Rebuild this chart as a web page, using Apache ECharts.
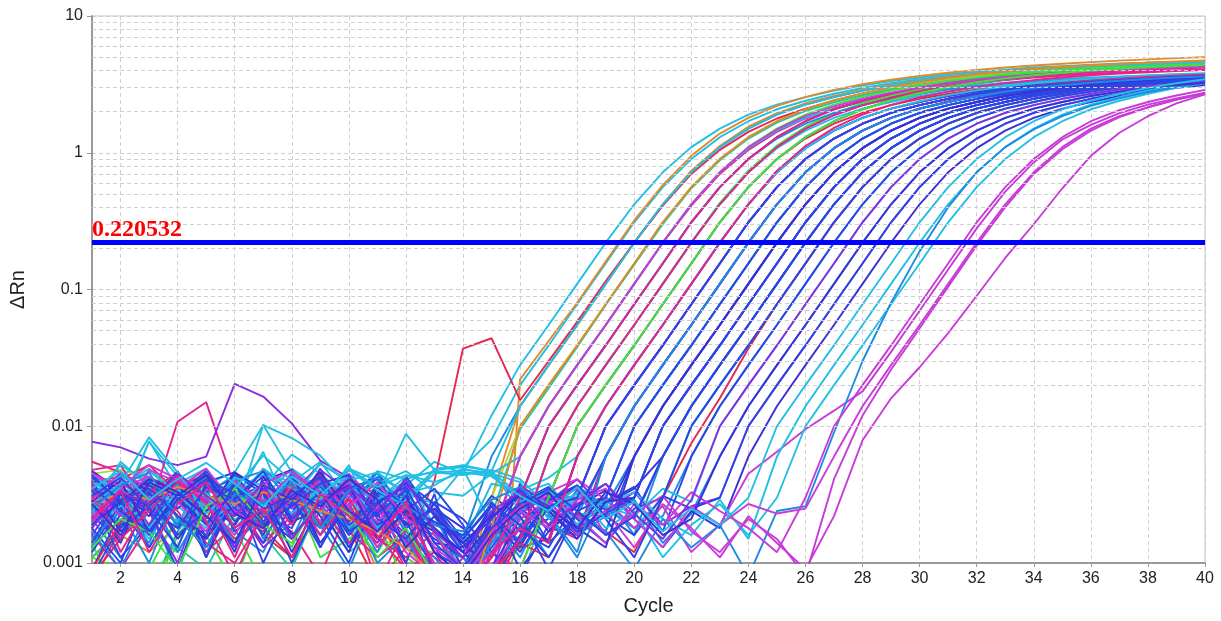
<!DOCTYPE html>
<html><head><meta charset="utf-8">
<script src="https://cdn.jsdelivr.net/npm/echarts@6/dist/echarts.min.js"></script>
<style>html,body{margin:0;padding:0;background:#fff;overflow:hidden}#c{width:1221px;height:621px}</style>
</head><body><div id="c"></div>
<script>
const cycles = ['1','2','3','4','5','6','7','8','9','10','11','12','13','14','15','16','17','18','19','20','21','22','23','24','25','26','27','28','29','30','31','32','33','34','35','36','37','38','39','40'];
const thresholdValue = 0.220532;
const logGridLines = [0.002,0.003,0.004,0.005,0.006,0.007,0.008,0.009,0.02,0.03,0.04,0.05,0.06,0.07,0.08,0.09,0.2,0.3,0.4,0.5,0.6,0.7,0.8,0.9,2,3,4,5,6,7,8,9];

const w01 = [.0038,.0022,.0078,.0035,.0012,.0028,.0065,.0021,.0036,.0016,.0031,.0088,.0048, .005,.008,.02,.039,.078,.155,.31,.56,.9,1.3,1.7,2.08,2.4,2.7,2.98,3.22,3.45,3.65,3.82,3.98,4.12,4.25,4.35,4.45,4.55,4.6,4.65];
const w02 = [.0019,.0033,.0026,.0008,.0041,.0022,.0102,.0046,.0027,.0052,.0018,.0037,.0055, .0045,.012,.028,.055,.11,.22,.42,.72,1.1,1.5,1.9,2.25,2.55,2.85,3.1,3.35,3.55,3.75,3.9,4.05,4.2,4.3,4.4,4.5,4.55,4.6,4.65];
const w03 = [.0011,.0016,.0012,.0019,.0032,.0038,.003,.004,.0035,.0024,.0009,.0006,.0005, .0003,.00002,.022,.042,.08,.16,.32,.58,.95,1.38,1.8,2.2,2.55,2.88,3.17,3.42,3.65,3.85,4.03,4.2,4.35,4.48,4.6,4.72,4.82,4.92,5.0];
const w04 = [.0021,.0011,.0006,.0017,.0035,.0013,.0026,.0042,.0019,.0009,.0028,.0014,.0008, .0015,.006,.014,.028,.055,.11,.22,.42,.72,1.1,1.5,1.9,2.25,2.55,2.85,3.1,3.35,3.55,3.75,3.9,4.05,4.2,4.3,4.4,4.5,4.55,4.6];
const w05 = [.0042,.0038,.003,.0025,.0034,.0031,.0027,.0036,.0022,.0018,.0026,.0014,.0009, .0006,.003,.014,.028,.055,.11,.22,.42,.74,1.12,1.55,1.95,2.3,2.6,2.9,3.15,3.4,3.6,3.8,3.95,4.1,4.25,4.35,4.45,4.55,4.62,4.7];
const w06 = [.0019,.0041,.0052,.0033,.0021,.0047,.0016,.0011,.0024,.0018,.0007,.0013,.004, .037,.044,.0155,.03,.058,.115,.22,.41,.7,1.05,1.42,1.78,2.1,2.4,2.68,2.92,3.14,3.33,3.5,3.64,3.76,3.87,3.96,4.04,4.11,4.17,4.22];
const w07 = [.0045,.0048,.0042,.0036,.0024,.0045,.0016,.0028,.0019,.0017,.0015,.0013,.0012, .0008,.003,.01,.02,.039,.078,.155,.31,.56,.9,1.3,1.7,2.08,2.4,2.7,2.98,3.22,3.45,3.65,3.82,3.98,4.12,4.25,4.35,4.45,4.52,4.58];
const w08 = [.0011,.0018,.0029,.0013,.0009,.0023,.0019,.0035,.0024,.0012,.0017,.0022,.0006, .0005,.0022,.0095,.019,.038,.077,.152,.3,.55,.88,1.27,1.66,2.02,2.34,2.63,2.9,3.13,3.35,3.53,3.7,3.84,3.97,4.08,4.17,4.25,4.32,4.38];
const w09 = [.0011,.0009,.0008,.0013,.0045,.0018,.0007,.0009,.0042,.0029,.0015,.0011,.0008, .0004,.0015,.006,.014,.028,.055,.11,.22,.42,.72,1.1,1.5,1.9,2.25,2.55,2.85,3.1,3.35,3.55,3.75,3.9,4.05,4.2,4.3,4.4,4.48,4.55];
const w10 = [.0048,.0052,.0024,.0108,.015,.0036,.0028,.0044,.0019,.0032,.0026,.0015,.0009, .0007,.0015,.006,.014,.028,.055,.11,.22,.41,.7,1.05,1.42,1.78,2.1,2.38,2.64,2.86,3.06,3.24,3.4,3.54,3.66,3.77,3.86,3.94,4.0,4.06];
const w11 = [.0009,.0006,.0005,.0016,.0029,.0021,.0024,.0013,.0036,.0018,.0012,.0025,.0017, .0009,.0004,.003,.01,.02,.039,.078,.155,.31,.56,.9,1.3,1.7,2.08,2.4,2.7,2.98,3.22,3.45,3.65,3.82,3.98,4.12,4.25,4.35,4.45,4.52];
const w12 = [.0024,.0055,.0036,.0044,.0015,.0031,.0046,.0039,.0055,.0029,.0047,.0041,.0047, .0046,.0045,.006,.014,.028,.055,.11,.22,.42,.72,1.08,1.45,1.8,2.1,2.35,2.6,2.8,2.98,3.12,3.25,3.36,3.46,3.55,3.62,3.68,3.73,3.78];
const w13 = [.0077,.007,.0058,.0052,.006,.0204,.0165,.0105,.0056,.0042,.0031,.0025,.0013, .0007,.0009,.003,.01,.02,.039,.078,.155,.31,.56,.9,1.3,1.7,2.08,2.4,2.7,2.98,3.22,3.43,3.6,3.75,3.88,4.0,4.1,4.18,4.25,4.3];
const w14 = [.0007,.0018,.0032,.0024,.0012,.0019,.0038,.0027,.0016,.0042,.0023,.0009,.0006, .0011,.0006,.0015,.006,.014,.028,.055,.11,.22,.42,.72,1.1,1.5,1.9,2.25,2.55,2.85,3.1,3.35,3.55,3.72,3.86,3.98,4.08,4.17,4.25,4.32];
const w15 = [.0014,.0005,.0009,.0022,.0016,.0007,.0027,.0035,.0011,.0015,.002,.0007,.0004, .0005,.0004,.0015,.006,.014,.028,.055,.11,.22,.43,.74,1.13,1.55,1.95,2.3,2.62,2.92,3.18,3.42,3.62,3.8,3.95,4.08,4.2,4.3,4.38,4.45];
const w16 = [.002,.0026,.0014,.0039,.0022,.0017,.0012,.0033,.0028,.0013,.0037,.0019,.0025, .0012,.0007,.003,.01,.02,.039,.078,.155,.31,.56,.9,1.27,1.63,1.96,2.23,2.48,2.7,2.9,3.05,3.19,3.31,3.41,3.5,3.58,3.65,3.71,3.76];
const w17 = [.0039,.0043,.0026,.002,.0035,.0029,.0014,.0022,.004,.0017,.0011,.0016,.0007, .0008,.0012,.0009,.003,.01,.02,.039,.078,.155,.31,.56,.9,1.3,1.7,2.08,2.4,2.7,2.98,3.22,3.42,3.6,3.75,3.88,4.0,4.1,4.18,4.25];
const w18 = [.0008,.0015,.0028,.0037,.0044,.003,.0018,.0011,.0024,.004,.0032,.0027,.0013, .0011,.0018,.0013,.003,.01,.02,.039,.078,.155,.31,.56,.9,1.27,1.63,1.96,2.23,2.48,2.7,2.9,3.05,3.19,3.31,3.41,3.5,3.58,3.65,3.71];
const w19 = [.0029,.002,.0047,.0032,.0024,.0038,.003,.0049,.0035,.0022,.0043,.0033,.0027, .0049,.0019,.0015,.006,.014,.028,.055,.11,.22,.42,.72,1.08,1.45,1.8,2.1,2.35,2.6,2.8,2.98,3.12,3.25,3.36,3.46,3.55,3.62,3.68,3.73];
const w20 = [.0016,.0009,.0019,.003,.0014,.001,.0022,.0017,.0008,.0026,.0015,.0011,.0017, .0007,.0009,.0013,.0015,.006,.014,.028,.055,.11,.22,.42,.72,1.08,1.45,1.8,2.1,2.35,2.6,2.8,2.98,3.12,3.25,3.36,3.46,3.55,3.62,3.68];
const w21 = [.0022,.0034,.0018,.0012,.0026,.0033,.0016,.0009,.0029,.002,.0038,.0013,.0008, .0006,.0005,.0007,.003,.01,.02,.039,.078,.155,.31,.56,.9,1.3,1.7,2.08,2.4,2.7,2.98,3.22,3.43,3.62,3.78,3.92,4.04,4.14,4.22,4.3];
const w22 = [.0043,.0032,.0017,.0046,.0028,.0013,.0035,.0023,.0049,.0018,.003,.001,.0006, .0006,.0011,.0024,.0014,.006,.014,.028,.055,.11,.22,.42,.72,1.08,1.45,1.8,2.1,2.35,2.6,2.8,2.98,3.12,3.25,3.36,3.46,3.55,3.62,3.68];
const w23 = [.0012,.0025,.0038,.0019,.0047,.0024,.0014,.0036,.002,.0042,.0015,.0028,.0012, .0009,.0028,.0017,.0021,.003,.01,.02,.039,.078,.155,.31,.56,.9,1.27,1.63,1.96,2.23,2.48,2.7,2.9,3.05,3.19,3.31,3.41,3.5,3.58,3.65];
const w24 = [.0026,.0014,.0042,.0034,.0011,.003,.0037,.0016,.0025,.0043,.0022,.0033,.0018, .0012,.0008,.0019,.0026,.003,.01,.02,.039,.078,.155,.31,.56,.9,1.27,1.63,1.96,2.23,2.48,2.7,2.9,3.05,3.19,3.31,3.41,3.5,3.58,3.65];
const w25 = [.0033,.0027,.0015,.0038,.0049,.0024,.0032,.002,.0043,.0029,.0018,.0035,.0023, .0014,.0038,.0034,.0042,.006,.014,.028,.055,.11,.22,.42,.72,1.08,1.45,1.8,2.1,2.38,2.64,2.86,3.05,3.22,3.36,3.48,3.58,3.67,3.75,3.82];
const w26 = [.0018,.0036,.0024,.0009,.0033,.0042,.0019,.0027,.0038,.0014,.0025,.002,.0009, .0007,.0013,.0025,.0018,.0016,.006,.014,.028,.055,.11,.22,.42,.72,1.08,1.45,1.8,2.1,2.35,2.6,2.8,2.98,3.12,3.25,3.36,3.46,3.55,3.62];
const w27 = [.0023,.0044,.0032,.0019,.0026,.004,.0047,.0029,.0016,.0034,.0027,.0014,.0022, .0009,.0021,.0011,.0028,.0022,.006,.014,.028,.055,.11,.22,.42,.72,1.08,1.45,1.8,2.1,2.35,2.6,2.8,2.98,3.12,3.25,3.36,3.46,3.55,3.62];
const w28 = [.0037,.0022,.0029,.0046,.002,.0025,.0049,.0032,.0053,.004,.0027,.0016,.0011, .0008,.0006,.0023,.0031,.003,.01,.02,.039,.078,.155,.31,.56,.9,1.27,1.63,1.96,2.23,2.48,2.7,2.9,3.05,3.19,3.31,3.41,3.5,3.58,3.65];
const w29 = [.0029,.0011,.0019,.0035,.0043,.0017,.0024,.0038,.0013,.003,.0046,.0023,.0015, .0011,.0007,.0016,.0032,.0021,.003,.01,.02,.039,.078,.155,.31,.56,.9,1.27,1.63,1.96,2.23,2.48,2.7,2.9,3.05,3.19,3.31,3.41,3.5,3.58];
const w30 = [.0013,.0027,.004,.0022,.0015,.0034,.0028,.0043,.0019,.0036,.0024,.0032,.0014, .0013,.0024,.0009,.0017,.0027,.003,.01,.02,.039,.078,.155,.31,.56,.9,1.27,1.63,1.96,2.23,2.48,2.7,2.9,3.05,3.19,3.31,3.41,3.5,3.58];
const w31 = [.0042,.0035,.0027,.002,.0038,.0046,.0102,.0082,.0061,.0036,.0029,.004,.0019, .0016,.0012,.0026,.0035,.0024,.003,.01,.02,.039,.078,.155,.31,.56,.9,1.27,1.63,1.96,2.23,2.48,2.7,2.9,3.05,3.19,3.31,3.41,3.5,3.58];
const w32 = [.0055,.0046,.0035,.0028,.004,.0023,.0017,.0032,.0026,.0014,.002,.001,.0007, .0008,.0015,.0027,.0019,.0015,.006,.014,.028,.055,.11,.22,.42,.72,1.08,1.45,1.8,2.1,2.38,2.64,2.86,3.05,3.22,3.36,3.48,3.58,3.66,3.73];
const w33 = [.0035,.0018,.0026,.0042,.0011,.0037,.0022,.0018,.0044,.0025,.0017,.0036,.0024, .0009,.0018,.0031,.0014,.0022,.0017,.006,.014,.028,.055,.11,.22,.42,.72,1.08,1.45,1.8,2.1,2.35,2.6,2.8,2.98,3.12,3.25,3.36,3.46,3.55];
const w34 = [.002,.0039,.0013,.0028,.0032,.0044,.0015,.003,.0023,.0048,.0034,.0017,.0011, .0006,.0011,.0024,.0033,.0019,.0026,.006,.014,.028,.055,.11,.22,.42,.72,1.08,1.45,1.8,2.1,2.35,2.6,2.8,2.98,3.12,3.25,3.36,3.46,3.55];
const w35 = [.0024,.0046,.0033,.0015,.0027,.0019,.004,.0048,.0029,.0017,.0038,.0026,.002, .0014,.0009,.0021,.0028,.0036,.0022,.006,.014,.028,.055,.11,.22,.42,.72,1.08,1.45,1.8,2.1,2.35,2.6,2.8,2.98,3.12,3.25,3.36,3.46,3.55];
const w36 = [.0009,.0023,.0018,.0036,.0029,.0012,.0043,.0025,.0037,.002,.0032,.0014,.0028, .0021,.0012,.0008,.0019,.0034,.0025,.003,.01,.02,.039,.078,.155,.31,.56,.9,1.27,1.63,1.96,2.23,2.48,2.7,2.9,3.05,3.19,3.31,3.41,3.5];
const w37 = [.003,.0052,.0039,.0026,.0018,.0035,.0044,.0037,.0023,.0049,.004,.0029,.0045, .0048,.0046,.0032,.0038,.0021,.0029,.003,.01,.02,.039,.078,.155,.31,.56,.9,1.27,1.63,1.96,2.23,2.48,2.7,2.9,3.05,3.19,3.31,3.41,3.5];
const w38 = [.0016,.0032,.0024,.001,.0038,.0027,.0013,.002,.0045,.0022,.0014,.003,.0009, .0007,.0019,.0035,.0028,.0041,.0024,.003,.01,.02,.039,.078,.155,.31,.56,.9,1.27,1.63,1.96,2.23,2.48,2.7,2.9,3.05,3.19,3.31,3.41,3.5];
const w39 = [.0038,.0025,.0013,.003,.0019,.0045,.0032,.001,.0028,.0035,.0018,.0043,.0022, .0012,.0026,.0017,.0013,.0029,.0038,.0021,.006,.014,.028,.055,.11,.22,.42,.72,1.08,1.45,1.8,2.1,2.35,2.6,2.8,2.98,3.12,3.25,3.36,3.46];
const w40 = [.0013,.003,.0042,.0018,.0024,.0036,.0029,.0015,.004,.0026,.0012,.0034,.0017, .0008,.0014,.0029,.0022,.0011,.0031,.0016,.006,.014,.028,.055,.11,.22,.42,.72,1.08,1.45,1.8,2.1,2.35,2.6,2.8,2.98,3.12,3.25,3.36,3.46];
const w41 = [.0047,.0034,.0022,.0043,.0015,.0028,.002,.0039,.0014,.0027,.0042,.0019,.0025, .0018,.0011,.0038,.0024,.0016,.0027,.0035,.006,.014,.028,.055,.11,.22,.42,.72,1.08,1.45,1.8,2.1,2.35,2.6,2.8,2.98,3.12,3.25,3.36,3.46];
const w42 = [.0022,.0015,.0037,.0029,.0044,.002,.0033,.0026,.0018,.0039,.0023,.001,.0032, .0006,.0017,.0028,.0036,.0021,.0014,.0025,.003,.01,.02,.039,.078,.155,.31,.56,.9,1.27,1.63,1.96,2.23,2.48,2.7,2.9,3.05,3.19,3.31,3.41];
const w43 = [.0019,.0026,.0077,.0043,.0032,.0024,.0036,.0062,.0045,.003,.0038,.0047,.0033, .0031,.0045,.0039,.0021,.0033,.0027,.0018,.003,.01,.02,.039,.078,.155,.31,.56,.9,1.27,1.63,1.96,2.23,2.48,2.7,2.9,3.05,3.19,3.31,3.41];
const w44 = [.0027,.0019,.0035,.0012,.0028,.004,.0023,.0046,.0034,.0017,.0029,.0022,.0013, .0011,.0007,.0019,.0029,.0037,.0025,.0018,.0022,.006,.014,.028,.055,.11,.22,.42,.72,1.08,1.45,1.8,2.1,2.35,2.6,2.8,2.98,3.12,3.25,3.36];
const w45 = [.004,.0028,.0016,.0032,.0047,.0025,.0018,.003,.0036,.0013,.0024,.0039,.0027, .0015,.0026,.0013,.0032,.0019,.0028,.0036,.0017,.006,.014,.028,.055,.11,.22,.42,.72,1.08,1.45,1.8,2.1,2.35,2.6,2.8,2.98,3.12,3.25,3.36];
const w46 = [.0009,.002,.0033,.0046,.0027,.0015,.0022,.0038,.0019,.003,.0013,.0025,.0006, .0006,.0009,.0014,.0011,.0023,.0017,.0012,.003,.0075,.016,.037,.078,.155,.31,.56,.9,1.27,1.63,1.96,2.23,2.48,2.7,2.9,3.05,3.19,3.31,3.41];
const w47 = [.0032,.0043,.0024,.0037,.002,.0028,.0049,.0035,.0026,.0042,.0018,.003,.0048, .0052,.0047,.0024,.0018,.0031,.0026,.0022,.0035,.0028,.01,.02,.039,.078,.155,.31,.56,.9,1.27,1.63,1.96,2.23,2.48,2.7,2.9,3.05,3.19,3.31];
const w48 = [.0015,.0024,.001,.0033,.0042,.0018,.0029,.002,.0037,.0025,.0046,.0016,.0009, .0009,.0012,.0027,.0034,.0016,.0022,.0029,.0014,.0023,.006,.014,.028,.055,.11,.22,.42,.72,1.08,1.45,1.8,2.1,2.35,2.6,2.8,2.98,3.12,3.25];
const w49 = [.0026,.0037,.0019,.0044,.003,.0013,.0035,.0022,.0048,.0033,.0017,.0028,.0012, .0008,.0021,.0036,.0028,.0017,.0024,.0033,.0019,.0026,.003,.01,.02,.039,.078,.155,.31,.56,.9,1.27,1.63,1.96,2.23,2.48,2.7,2.9,3.05,3.19];
const w50 = [.0018,.001,.0032,.0025,.0039,.0046,.0022,.0015,.003,.0037,.0019,.0024,.0035, .0019,.0008,.0015,.0029,.0037,.0022,.0016,.0031,.0025,.003,.01,.02,.039,.078,.155,.31,.56,.9,1.27,1.63,1.96,2.23,2.48,2.7,2.9,3.05,3.19];
const w51 = [.0034,.0017,.0026,.004,.0013,.0029,.0043,.002,.0025,.0012,.0036,.0022,.0017, .0012,.0023,.0031,.0017,.0026,.0034,.0021,.0013,.0024,.0018,.006,.014,.028,.055,.11,.22,.42,.72,1.08,1.45,1.8,2.1,2.35,2.6,2.8,2.98,3.12];
const w52 = [.0022,.0035,.0043,.0028,.0017,.0032,.0024,.0039,.002,.0045,.0027,.0014,.0009, .0007,.0016,.0025,.0033,.0041,.0029,.0018,.0026,.0012,.0019,.0045,.0065,.0095,.013,.018,.035,.07,.14,.28,.52,.85,1.25,1.6,1.95,2.25,2.5,2.75];
const w53 = [.0039,.003,.0018,.0034,.0026,.0042,.0037,.0029,.0053,.004,.0046,.0032,.0037, .0049,.0044,.0028,.0035,.0019,.0027,.0033,.0021,.0016,.0029,.0015,.006,.014,.028,.055,.11,.22,.42,.72,1.1,1.5,1.9,2.25,2.55,2.85,3.1,3.35];
const w54 = [.0024,.0036,.0049,.0032,.002,.0027,.0038,.0023,.0035,.0018,.0029,.0043,.0046, .0044,.0048,.0041,.0026,.0032,.0018,.0024,.0011,.0019,.0027,.0016,.003,.01,.02,.039,.078,.155,.31,.56,.9,1.3,1.7,2.08,2.4,2.7,2.98,3.22];
const w55 = [.0017,.0009,.0025,.0038,.003,.0014,.0022,.0033,.0018,.0027,.001,.0016,.0006, .0006,.0014,.0022,.0011,.0024,.0017,.0009,.0021,.0013,.0019,.0008,.0024,.0026,.009,.03,.08,.19,.4,.72,1.1,1.48,1.85,2.2,2.5,2.78,3.02,3.24];
const w56 = [.0043,.0038,.003,.0035,.0049,.0027,.002,.0032,.0024,.0039,.0017,.0026,.0013, .0009,.0017,.0026,.0031,.0022,.0014,.0027,.0019,.0033,.0024,.0018,.0012,.003,.01,.02,.039,.078,.155,.31,.56,.9,1.3,1.7,2.05,2.35,2.62,2.88];
const w57 = [.0029,.0046,.0035,.0022,.0017,.004,.0028,.0044,.0033,.0019,.0025,.0012,.0008, .0007,.0012,.0024,.0018,.0029,.0035,.0021,.0013,.0026,.0019,.0027,.0023,.0025,.006,.014,.028,.055,.11,.22,.42,.72,1.1,1.5,1.85,2.15,2.45,2.7];
const w58 = [.0035,.0022,.0048,.0039,.0027,.0016,.0033,.0025,.0042,.003,.002,.0037,.0024, .0013,.0009,.0018,.0027,.0035,.0016,.0023,.0031,.0017,.0012,.0021,.0015,.0008,.0041,.012,.026,.052,.105,.21,.4,.7,1.06,1.45,1.82,2.15,2.45,2.72];
const w59 = [.002,.0033,.0027,.0042,.0036,.0024,.0018,.003,.0039,.0026,.0013,.0022,.001, .0006,.0011,.0021,.0029,.0016,.0024,.0013,.0027,.0018,.0011,.0022,.0014,.0009,.0022,.0079,.016,.027,.048,.09,.17,.3,.55,.95,1.4,1.85,2.3,2.67];
const w60 = [.0008,.0019,.0025,.0013,.0038,.0029,.0016,.0044,.0022,.001,.0033,.0027,.0019, .0016,.0031,.0022,.0009,.0024,.006,.014,.028,.055,.11,.22,.42,.72,1.08,1.45,1.8,2.1,2.35,2.6,2.8,2.98,3.12,3.25,3.36,3.46,3.55,3.62];
const w61 = [.0028,.004,.0017,.0032,.0023,.0046,.0034,.0012,.0029,.0037,.0015,.0024,.0018, .0011,.0019,.0033,.0024,.0015,.0028,.003,.01,.02,.039,.078,.155,.31,.56,.9,1.27,1.63,1.96,2.23,2.48,2.7,2.9,3.05,3.19,3.31,3.41,3.5];
const w62 = [.0014,.0032,.0026,.0047,.0019,.0035,.001,.0028,.0042,.0017,.0023,.0034,.0008, .0007,.0023,.0014,.0029,.0036,.0021,.0011,.003,.01,.02,.039,.078,.155,.31,.56,.9,1.27,1.63,1.96,2.23,2.48,2.7,2.9,3.05,3.19,3.31,3.41];
const w63 = [.0044,.0027,.0033,.0016,.0024,.0038,.002,.003,.0013,.0035,.0042,.0018,.0025, .0014,.0022,.0012,.0026,.003,.01,.02,.039,.078,.155,.31,.56,.9,1.27,1.63,1.96,2.23,2.48,2.7,2.9,3.05,3.19,3.31,3.41,3.5,3.58,3.65];
const w64 = [.0039,.0012,.0027,.0043,.002,.0008,.0024,.0035,.0016,.0029,.0007,.0018,.0006, .0005,.0008,.0015,.006,.014,.028,.055,.11,.22,.42,.72,1.1,1.5,1.88,2.22,2.52,2.8,3.05,3.27,3.46,3.62,3.76,3.88,3.98,4.06,4.13,4.2];
const w65 = [.0027,.0038,.0083,.0046,.0023,.0035,.0061,.004,.0029,.0048,.0034,.0026,.0049, .0051,.0047,.014,.028,.055,.11,.22,.42,.72,1.1,1.5,1.9,2.25,2.55,2.85,3.1,3.35,3.55,3.75,3.9,4.05,4.18,4.28,4.37,4.45,4.52,4.58];
const w66 = [.0031,.0015,.0024,.0039,.0028,.0011,.0034,.0019,.0045,.0023,.0016,.0009,.0012, .0006,.0011,.003,.01,.02,.039,.078,.155,.31,.56,.9,1.3,1.7,2.08,2.4,2.7,2.98,3.2,3.4,3.57,3.72,3.85,3.96,4.05,4.13,4.2,4.26];
const w67 = [.0026,.0033,.0029,.0036,.0031,.0027,.0033,.0029,.0024,.0021,.0017,.0013,.0008, .0004,.0018,.01,.02,.039,.078,.155,.31,.56,.9,1.3,1.7,2.08,2.42,2.73,3.02,3.28,3.52,3.73,3.92,4.08,4.22,4.35,4.46,4.56,4.65,4.74];
const w68 = [.0045,.0036,.0052,.0041,.0029,.0022,.0038,.0047,.0033,.0026,.0039,.0021,.0016, .0009,.0016,.006,.014,.028,.055,.11,.22,.42,.72,1.1,1.48,1.85,2.18,2.48,2.75,3.0,3.22,3.41,3.58,3.72,3.84,3.95,4.04,4.12,4.19,4.25];
const w69 = [.0013,.0021,.0017,.0009,.0026,.0035,.0019,.0014,.0031,.0023,.0011,.0018,.0008, .0004,.0006,.0009,.003,.01,.02,.039,.078,.155,.31,.56,.9,1.3,1.7,2.08,2.42,2.74,3.03,3.28,3.5,3.69,3.85,3.99,4.11,4.21,4.3,4.38];
const w70 = [.0031,.0042,.0025,.0018,.0036,.0029,.0047,.0021,.0033,.0016,.0027,.0038,.0023, .0015,.0027,.0019,.0011,.0024,.003,.01,.02,.039,.078,.155,.31,.56,.9,1.27,1.63,1.96,2.23,2.48,2.7,2.9,3.05,3.19,3.31,3.41,3.5,3.58];
const w71 = [.0019,.0028,.0041,.0033,.0022,.0014,.0037,.0029,.0046,.0024,.0017,.0031,.0012, .0008,.0016,.0025,.0033,.0018,.0013,.006,.014,.028,.055,.11,.22,.42,.72,1.08,1.45,1.8,2.1,2.35,2.6,2.8,2.98,3.12,3.25,3.36,3.46,3.55];
const w72 = [.0036,.0024,.0017,.0029,.0041,.0032,.0019,.0026,.0038,.0044,.0021,.0015,.0027, .0013,.0021,.0034,.0026,.0017,.0023,.003,.01,.02,.039,.078,.155,.31,.56,.9,1.27,1.63,1.96,2.23,2.48,2.7,2.9,3.05,3.19,3.31,3.41,3.5];
const w73 = [.0025,.0037,.0046,.0021,.0013,.0032,.0027,.0039,.0018,.0034,.0042,.0026,.0019, .0017,.0029,.0036,.0023,.0012,.006,.014,.028,.055,.11,.22,.42,.72,1.08,1.45,1.8,2.1,2.35,2.6,2.8,2.98,3.12,3.25,3.36,3.46,3.55,3.62];
const w74 = [.0042,.0029,.0035,.0022,.0016,.0038,.0025,.0031,.0043,.0019,.0028,.0036,.0014, .0009,.0018,.0027,.0035,.0024,.0016,.0022,.006,.014,.028,.055,.11,.22,.42,.72,1.08,1.45,1.8,2.1,2.35,2.6,2.8,2.98,3.12,3.25,3.36,3.46];
const w75 = [.0018,.0033,.0027,.0045,.0031,.0022,.0039,.0015,.0028,.0036,.0024,.0041,.0017, .0011,.0024,.0033,.0019,.0027,.0038,.0023,.0015,.0029,.01,.02,.039,.078,.155,.31,.56,.9,1.27,1.63,1.96,2.23,2.48,2.7,2.9,3.05,3.19,3.31];
const w76 = [.0027,.0016,.0039,.0031,.0044,.0023,.0018,.0034,.0026,.0041,.0029,.0013,.0022, .0014,.0022,.0031,.0025,.0018,.0033,.0027,.0016,.0021,.006,.014,.028,.055,.11,.22,.42,.72,1.08,1.45,1.8,2.1,2.35,2.6,2.8,2.98,3.12,3.25];
const w77 = [.0035,.0047,.0029,.0041,.0054,.0038,.0026,.0043,.0031,.0049,.0036,.0044,.0039, .0046,.0043,.0031,.0024,.0036,.0021,.0028,.0017,.0025,.0019,.003,.01,.02,.039,.078,.155,.31,.56,.9,1.3,1.7,2.08,2.4,2.7,2.98,3.22,3.45];
const w78 = [.0021,.0034,.0012,.0027,.0039,.0018,.0025,.0011,.0032,.0022,.0015,.0028,.0009, .0005,.0012,.0018,.0014,.006,.014,.028,.055,.11,.22,.42,.74,1.12,1.52,1.9,2.24,2.54,2.8,3.03,3.23,3.4,3.55,3.68,3.79,3.88,3.96,4.03];

const wells = [w01,w02,w03,w04,w05,w06,w07,w08,w09,w10,w11,w12,w13,w14,w15,w16,w17,w18,w19,w20,w21,w22,w23,w24,w25,w26,w27,w28,w29,w30,w31,w32,w33,w34,w35,w36,w37,w38,w39,w40,w41,w42,w43,w44,w45,w46,w47,w48,w49,w50,w51,w52,w53,w54,w55,w56,w57,w58,w59,w60,w61,w62,w63,w64,w65,w66,w67,w68,w69,w70,w71,w72,w73,w74,w75,w76,w77,w78];

const C='#22bfe4', LB='#1f8ae3', B='#2a46e6', I='#3b2fd6', V='#8b2be2', P='#c93ad8', K='#e6228c', R='#e2284e', O='#e08a2c', G='#3fe03f', YG='#a8d832', T='#26c6a4';
const wellColors = [C,C,O,LB,O,R,YG,T,G,K,G,C,V,K,G,LB,K,R,C,K,T,B,B,I,C,B,LB,V,B,I,C,K,B,LB,I,B,C,V,B,LB,I,B,C,LB,B,R,C,LB,V,B,I,P,C,C,LB,P,P,P,P,B,I,B,B,K,C,K,O,P,G,B,I,B,LB,B,V,I,C,K];

const chart = echarts.init(document.getElementById('c'), null, {renderer: 'canvas', width: 1221, height: 621});
const evenIdx = (i) => i % 2 === 1;
const font = 'Liberation Sans, Arial, sans-serif';

const series = [];
series.push({
  type: 'line', data: [], z: 1, silent: true,
  markLine: { silent: true, symbol: 'none', animation: false,
    label: { show: false },
    lineStyle: { color: '#cfcfcf', type: [4, 3], width: 1 },
    emphasis: { disabled: true },
    data: logGridLines.map(v => ({ yAxis: v })) }
});
wells.forEach((d, i) => series.push({
  type: 'line', data: d, symbol: 'none', showSymbol: false, silent: true, z: 3,
  lineStyle: { width: 1.9, color: wellColors[i] }, itemStyle: { color: wellColors[i] },
  emphasis: { disabled: true }
}));
series.push({
  type: 'line', data: [], z: 10, silent: true,
  markLine: { silent: true, symbol: 'none', animation: false,
    lineStyle: { color: '#0000ff', width: 5, type: 'solid' },
    emphasis: { disabled: true },
    label: { show: true, position: 'insideStartTop', formatter: String(thresholdValue),
      color: '#ff0000', fontFamily: 'Liberation Serif, Times New Roman, serif', fontWeight: 'bold', fontSize: 24, distance: [0, 1] },
    data: [{ yAxis: thresholdValue }] }
});

chart.setOption({
  animation: false,
  backgroundColor: '#ffffff',
  grid: { left: 92, right: 16, top: 16, bottom: 54, show: true, borderColor: '#c4c4c4', borderWidth: 1, backgroundColor: 'transparent' },
  xAxis: {
    type: 'category', data: cycles, boundaryGap: false,
    axisLine: { lineStyle: { color: '#9a9a9a', width: 2 } },
    axisTick: { show: true, interval: evenIdx, length: 4, lineStyle: { color: '#9a9a9a' } },
    axisLabel: { interval: evenIdx, color: '#222', fontSize: 16, fontFamily: font, margin: 8 },
    splitLine: { show: true, interval: evenIdx, lineStyle: { color: '#cfcfcf', type: [4, 3] } },
    name: 'Cycle', nameLocation: 'middle', nameGap: 33,
    nameTextStyle: { fontSize: 20, color: '#222', fontFamily: font }
  },
  yAxis: {
    type: 'log', logBase: 10, min: 0.001, max: 10,
    axisLine: { show: true, lineStyle: { color: '#9a9a9a', width: 2 } },
    axisTick: { show: true, length: 5, lineStyle: { color: '#9a9a9a' } },
    axisLabel: { color: '#222', fontSize: 16, fontFamily: font, margin: 9,
      formatter: v => parseFloat(Number(v).toPrecision(3)).toString() },
    splitLine: { show: true, lineStyle: { color: '#cfcfcf', type: [4, 3] } },
    name: 'ΔRn', nameLocation: 'middle', nameGap: 64,
    nameTextStyle: { fontSize: 20, color: '#222', fontFamily: font }
  },
  series: series
});
</script>
</body></html>
